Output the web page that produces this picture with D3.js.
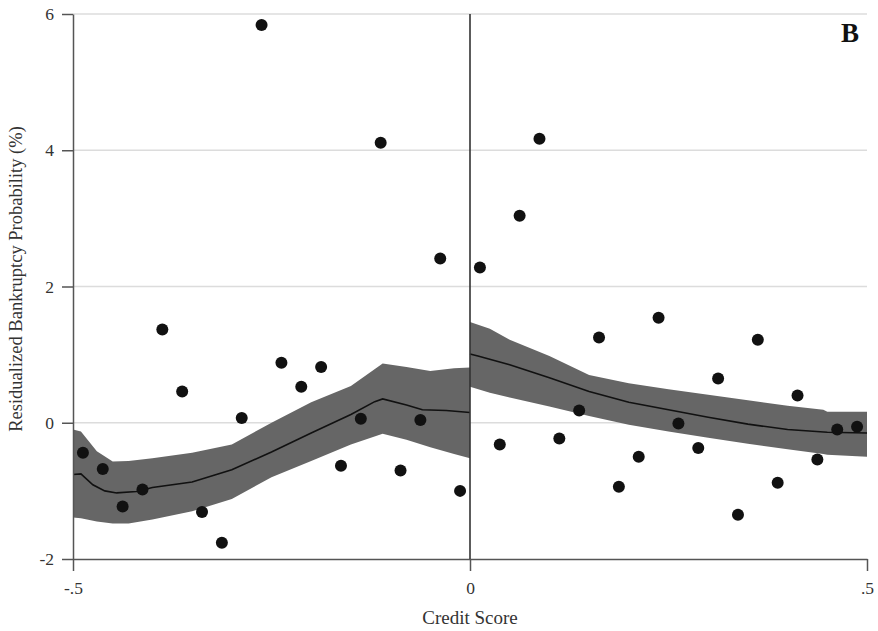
<!DOCTYPE html>
<html>
<head>
<meta charset="utf-8">
<script src="https://cdn.jsdelivr.net/npm/d3@7"></script>
<style>
html,body{margin:0;padding:0;background:#fff;}
svg{display:block;font-family:"Liberation Serif","Times New Roman",serif;}
</style>
</head>
<body>
<svg id="chart" width="878" height="631"></svg>
<script>
// ---- data ----
const leftBinX = [-0.4875,-0.4625,-0.4375,-0.4125,-0.3875,-0.3625,-0.3375,-0.3125,-0.2875,-0.2625,
                  -0.2375,-0.2125,-0.1875,-0.1625,-0.1375,-0.1125,-0.0875,-0.0625,-0.0375,-0.0125];
const leftBinY = [-0.44,-0.68,-1.23,-0.98,1.37,0.46,-1.31,-1.76,0.07,5.84,
                  0.88,0.53,0.82,-0.63,0.06,4.11,-0.70,0.04,2.41,-1.00];
const rightBinX = [0.0125,0.0375,0.0625,0.0875,0.1125,0.1375,0.1625,0.1875,0.2125,0.2375,
                   0.2625,0.2875,0.3125,0.3375,0.3625,0.3875,0.4125,0.4375,0.4625,0.4875];
const rightBinY = [2.28,-0.32,3.04,4.17,-0.23,0.18,1.25,-0.94,-0.50,1.54,
                   -0.01,-0.37,0.65,-1.35,1.22,-0.88,0.40,-0.54,-0.10,-0.06];

const leftFitX   = [-0.5,-0.49,-0.475,-0.46,-0.445,-0.42,-0.40,-0.35,-0.30,-0.25,-0.20,-0.15,-0.12,-0.11,-0.08,-0.06,-0.03,0];
const leftFitY   = [-0.76,-0.75,-0.91,-1.00,-1.03,-1.01,-0.95,-0.87,-0.69,-0.43,-0.15,0.12,0.31,0.35,0.26,0.19,0.18,0.15];
const leftBandX  = [-0.5,-0.49,-0.47,-0.45,-0.43,-0.40,-0.35,-0.30,-0.25,-0.20,-0.15,-0.11,-0.08,-0.05,-0.02,0];
const leftUpper  = [-0.10,-0.13,-0.42,-0.57,-0.56,-0.52,-0.44,-0.32,0.00,0.30,0.54,0.87,0.82,0.76,0.80,0.81];
const leftLower  = [-1.39,-1.40,-1.45,-1.48,-1.48,-1.42,-1.30,-1.12,-0.80,-0.56,-0.32,-0.16,-0.25,-0.36,-0.46,-0.52];

const rightFitX  = [0,0.01,0.05,0.10,0.15,0.20,0.25,0.30,0.35,0.40,0.45,0.50];
const rightFitY  = [1.01,0.98,0.85,0.66,0.46,0.30,0.19,0.08,-0.02,-0.10,-0.14,-0.15];
const rightBandX = [0,0.025,0.05,0.10,0.15,0.20,0.25,0.30,0.35,0.40,0.445,0.45,0.50];
const rightUpper = [1.48,1.38,1.22,0.98,0.70,0.58,0.49,0.41,0.33,0.25,0.19,0.16,0.16];
const rightLower = [0.53,0.44,0.37,0.24,0.10,-0.03,-0.13,-0.22,-0.31,-0.39,-0.46,-0.47,-0.50];

const xTicks = [-0.5, 0, 0.5];
const xTickLabels = ["-.5", "0", ".5"];
const yTicks = [-2, 0, 2, 4, 6];
const yTickLabels = ["-2", "0", "2", "4", "6"];
const xTitle = "Credit Score";
const yTitle = "Residualized Bankruptcy Probability (%)";
const panelLabel = "B";

// ---- chart ----
const svg = d3.select("#chart");
const x = d3.scaleLinear().domain([-0.5, 0.5]).range([73, 867]);
const y = d3.scaleLinear().domain([-2, 6]).range([559, 14]);

// gridlines
svg.append("g").selectAll("line").data(yTicks.filter(v => v > -2)).join("line")
  .attr("x1", x(-0.5)).attr("x2", x(0.5))
  .attr("y1", d => y(d)).attr("y2", d => y(d))
  .attr("stroke", "#dcdcdc").attr("stroke-width", 1.5);

// confidence bands
const bandColor = "#666666";
const area = d3.area().x(d => x(d[0])).y0(d => y(d[1])).y1(d => y(d[2]));
svg.append("path")
  .datum(leftBandX.map((v, i) => [v, leftLower[i], leftUpper[i]]))
  .attr("d", area).attr("fill", bandColor);
svg.append("path")
  .datum(rightBandX.map((v, i) => [v, rightLower[i], rightUpper[i]]))
  .attr("d", area).attr("fill", bandColor);

// fitted lines
const line = d3.line().x(d => x(d[0])).y(d => y(d[1]));
svg.append("path")
  .datum(leftFitX.map((v, i) => [v, leftFitY[i]]))
  .attr("d", line).attr("fill", "none").attr("stroke", "#111").attr("stroke-width", 1.6);
svg.append("path")
  .datum(rightFitX.map((v, i) => [v, rightFitY[i]]))
  .attr("d", line).attr("fill", "none").attr("stroke", "#111").attr("stroke-width", 1.6);

// axes
const xAxis = d3.axisBottom(x).tickValues(xTicks)
  .tickFormat((d, i) => xTickLabels[i]).tickSize(12).tickSizeOuter(0).tickPadding(11);
const gx = svg.append("g").attr("transform", `translate(0,${y(-2)})`).call(xAxis);
const yAxis = d3.axisLeft(y).tickValues(yTicks)
  .tickFormat((d, i) => yTickLabels[i]).tickSize(11).tickSizeOuter(0).tickPadding(8);
const gy = svg.append("g").attr("transform", `translate(${x(-0.5)},0)`).call(yAxis);
[gx, gy].forEach(g => {
  g.select(".domain").attr("stroke", "#555").attr("stroke-width", 1.5);
  g.selectAll(".tick line").attr("stroke", "#555").attr("stroke-width", 1.5);
  g.selectAll("text").attr("font-family", "Liberation Serif, serif")
    .attr("font-size", 17.5).attr("fill", "#333");
});

// cutoff line at zero
svg.append("line")
  .attr("x1", x(0)).attr("x2", x(0)).attr("y1", y(6)).attr("y2", y(-2))
  .attr("stroke", "#333").attr("stroke-width", 1.6);

// dots
const dots = leftBinX.map((v, i) => [v, leftBinY[i]])
  .concat(rightBinX.map((v, i) => [v, rightBinY[i]]));
svg.append("g").selectAll("circle").data(dots).join("circle")
  .attr("cx", d => x(d[0])).attr("cy", d => y(d[1])).attr("r", 6)
  .attr("fill", "#111");

// titles
svg.append("text").attr("x", x(0)).attr("y", 624).attr("text-anchor", "middle")
  .attr("font-size", 19).attr("fill", "#333").text(xTitle);
svg.append("text").attr("transform", "translate(22,279) rotate(-90)")
  .attr("text-anchor", "middle").attr("font-size", 18.5).attr("fill", "#333").text(yTitle);
svg.append("text").attr("x", 859).attr("y", 42).attr("text-anchor", "end")
  .attr("font-size", 27).attr("font-weight", "bold").attr("fill", "#111").text(panelLabel);
</script>
</body>
</html>
